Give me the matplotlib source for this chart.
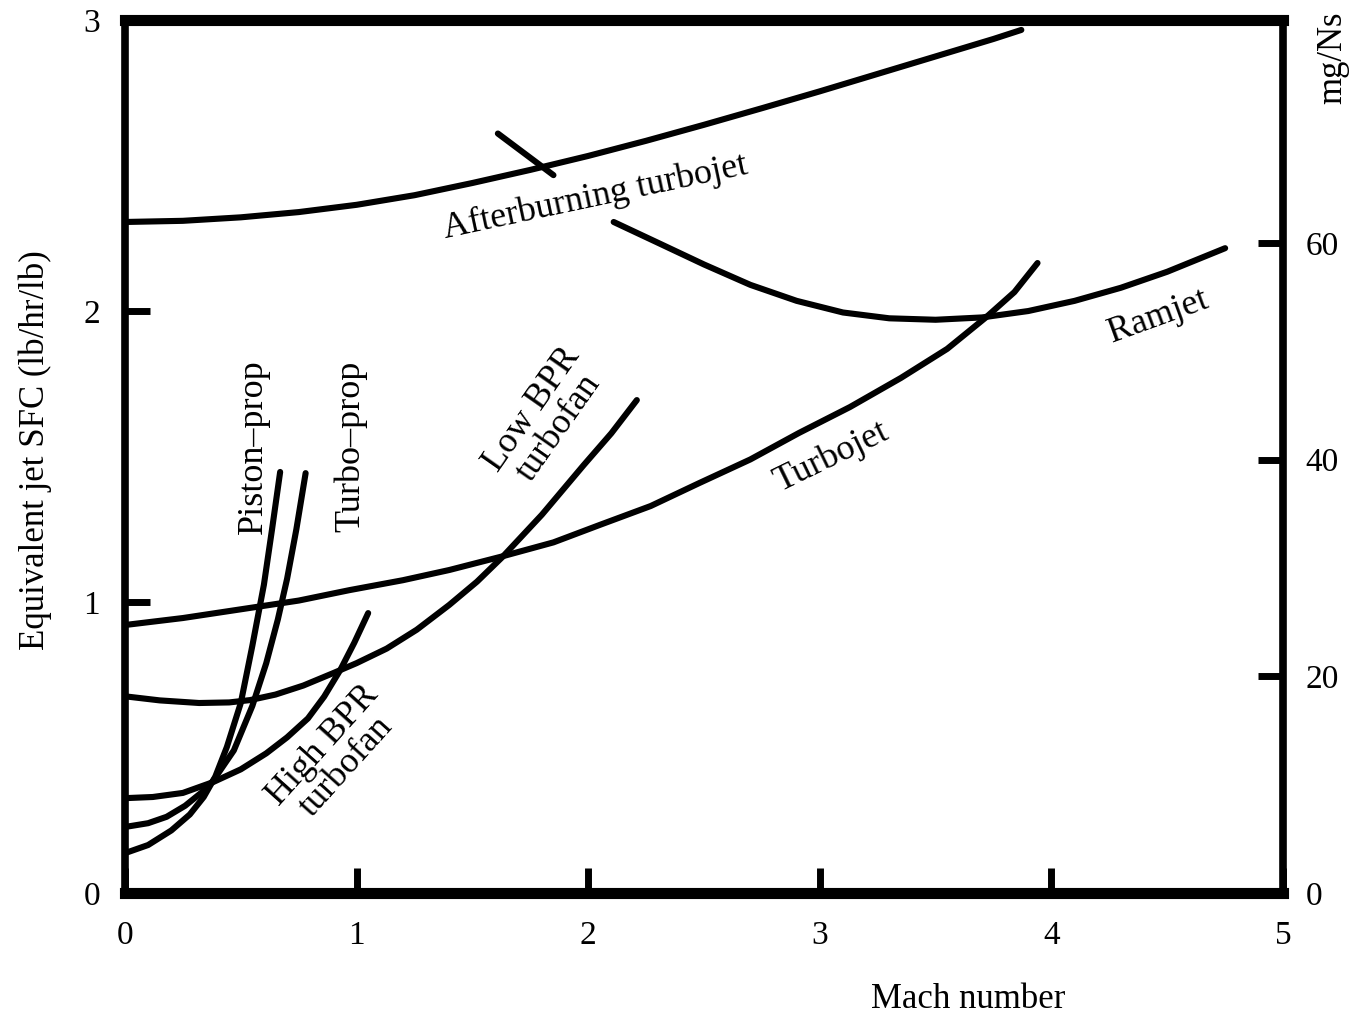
import matplotlib.pyplot as plt

plt.rcParams['font.family'] = ['Liberation Serif', 'DejaVu Serif']

# curves: Mach number vs equivalent jet SFC (lb/hr/lb)
afterburning_m = [0.0, 0.25, 0.5, 0.75, 1.0, 1.25, 1.5, 1.75, 2.0, 2.25, 2.5, 2.75, 3.0, 3.25, 3.5, 3.75, 3.87]
afterburning_sfc = [2.306, 2.310, 2.322, 2.340, 2.365, 2.398, 2.440, 2.485, 2.533, 2.585, 2.640, 2.697,
                    2.755, 2.815, 2.875, 2.935, 2.966]
afterburning_mark_m = [1.61, 1.85]
afterburning_mark_sfc = [2.61, 2.467]

ramjet_m = [2.11, 2.3, 2.5, 2.7, 2.9, 3.1, 3.3, 3.5, 3.7, 3.9, 4.1, 4.3, 4.5, 4.75]
ramjet_sfc = [2.306, 2.235, 2.160, 2.090, 2.035, 1.995, 1.975, 1.970, 1.978, 2.000, 2.035, 2.080, 2.135, 2.216]

turbojet_m = [0.0, 0.25, 0.5, 0.75, 0.97, 1.2, 1.4, 1.62, 1.85, 2.05, 2.27, 2.48, 2.7, 2.91,
              3.13, 3.35, 3.55, 3.72, 3.84, 3.94]
turbojet_sfc = [0.921, 0.945, 0.975, 1.005, 1.041, 1.075, 1.110, 1.155, 1.205, 1.265, 1.330, 1.409,
                1.490, 1.581, 1.670, 1.770, 1.870, 1.980, 2.065, 2.165]

low_bpr_m = [0.0, 0.15, 0.32, 0.45, 0.54, 0.65, 0.77, 0.9, 1.0, 1.13, 1.26, 1.4, 1.52, 1.63,
             1.8, 1.98, 2.1, 2.21]
low_bpr_sfc = [0.676, 0.662, 0.653, 0.655, 0.663, 0.682, 0.713, 0.756, 0.790, 0.840, 0.905, 0.990,
               1.070, 1.155, 1.300, 1.470, 1.580, 1.694]

high_bpr_m = [0.0, 0.12, 0.25, 0.38, 0.5, 0.61, 0.7, 0.79, 0.86, 0.93, 0.99, 1.05]
high_bpr_sfc = [0.326, 0.330, 0.344, 0.381, 0.425, 0.480, 0.535, 0.600, 0.675, 0.767, 0.860, 0.962]

piston_m = [0.0, 0.1, 0.2, 0.28, 0.34, 0.39, 0.44, 0.5, 0.55, 0.6, 0.635, 0.67]
piston_sfc = [0.137, 0.165, 0.215, 0.270, 0.330, 0.400, 0.502, 0.653, 0.850, 1.060, 1.250, 1.447]

turboprop_m = [0.0, 0.1, 0.18, 0.26, 0.33, 0.38, 0.47, 0.55, 0.61, 0.66, 0.7, 0.74, 0.78]
turboprop_sfc = [0.227, 0.240, 0.262, 0.300, 0.345, 0.385, 0.490, 0.643, 0.790, 0.940, 1.080, 1.250, 1.443]

x_ticks = [0, 1, 2, 3, 4, 5]
y_ticks = [0, 1, 2, 3]
right_ticks = [0, 20, 40, 60]
mgns_per_unit = 26.86  # right scale as drawn in the figure

fig = plt.figure(figsize=(13.51, 10.17), dpi=100)
ax = fig.add_axes([0.0925, 0.1219, 0.8572, 0.8584])

lw = 4.4
for m, s in [(afterburning_m, afterburning_sfc), (afterburning_mark_m, afterburning_mark_sfc),
             (ramjet_m, ramjet_sfc), (turbojet_m, turbojet_sfc),
             (low_bpr_m, low_bpr_sfc), (high_bpr_m, high_bpr_sfc),
             (piston_m, piston_sfc), (turboprop_m, turboprop_sfc)]:
    ax.plot(m, s, color='black', lw=lw, solid_capstyle='round', solid_joinstyle='round')

ax.set_xlim(0, 5)
ax.set_ylim(0, 3)
ax.set_xticks(x_ticks)
ax.set_yticks(y_ticks)
ax.tick_params(direction='in', length=18, width=5, labelsize=24, pad=18)
ax.tick_params(axis='x', pad=20)
for side in ['top', 'bottom']:
    ax.spines[side].set_linewidth(8)
for side in ['left', 'right']:
    ax.spines[side].set_linewidth(5.5)

ax2 = ax.twinx()
ax2.set_ylim(0, 3 * mgns_per_unit)
ax2.set_yticks(right_ticks)
ax2.tick_params(direction='in', length=18, width=5, labelsize=24, pad=16)
for sp in ax2.spines.values():
    sp.set_visible(False)

# curve labels
txt = dict(fontsize=26, ha='center', va='center')
ax.text(2.03, 2.39, 'Afterburning turbojet', rotation=12, **txt)
ax.text(4.46, 1.98, 'Ramjet', rotation=20, **txt)
ax.text(3.05, 1.50, 'Turbojet', rotation=26, **txt)
ax.text(1.815, 1.63, 'Low BPR\nturbofan', rotation=55, linespacing=0.95, **txt)
ax.text(0.905, 0.47, 'High BPR\nturbofan', rotation=48, linespacing=0.95, **txt)
ax.text(0.555, 1.535, 'Piston–prop', rotation=90, **txt)
ax.text(0.975, 1.535, 'Turbo–prop', rotation=90, **txt)

fig.text(35 / 1351, 1 - 450 / 1017, 'Equivalent jet SFC (lb/hr/lb)', rotation=90,
         fontsize=25, ha='center', va='center')
fig.text(968 / 1351, 1 - 1000 / 1017, 'Mach number', fontsize=25, ha='center', va='center')
fig.text(1333 / 1351, 1 - 12 / 1017, 'mg/Ns', rotation=90, fontsize=25, ha='center', va='top')

fig.savefig('out.png', dpi=100)
